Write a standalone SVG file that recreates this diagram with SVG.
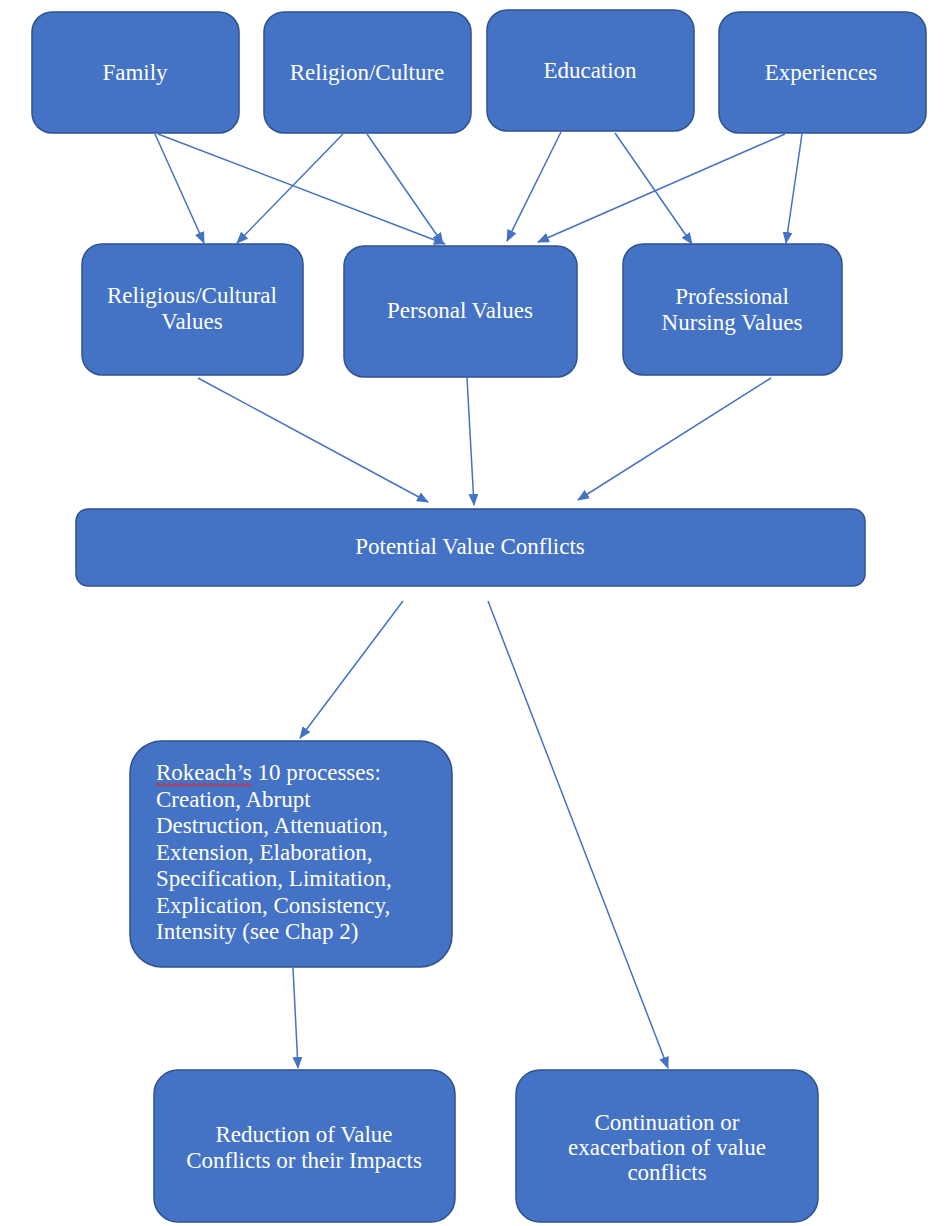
<svg xmlns="http://www.w3.org/2000/svg" width="946" height="1226" viewBox="0 0 946 1226">
<style>
.box{fill:#4472C4;stroke:#2F528F;stroke-width:1.5}
text{font-family:'Liberation Serif','Times New Roman',serif;fill:#ffffff;font-size:23px}
.t{text-anchor:middle}
.c{stroke:#4472C4;stroke-width:1.5;fill:none;marker-end:url(#ah)}
</style>
<defs>
<marker id="ah" viewBox="0 0 12 10" refX="11" refY="5" markerWidth="12" markerHeight="10" orient="auto" markerUnits="userSpaceOnUse">
<path d="M0,0 L12,5 L0,10 z" fill="#4472C4"/>
</marker>
</defs>
<rect width="946" height="1226" fill="#ffffff"/>
<g id="connectors">
<line class="c" x1="155" y1="134" x2="204" y2="243"/>
<line class="c" x1="158" y1="134" x2="445" y2="244"/>
<line class="c" x1="343" y1="134" x2="237" y2="243"/>
<line class="c" x1="367" y1="134" x2="443" y2="244"/>
<line class="c" x1="561" y1="132" x2="507" y2="241"/>
<line class="c" x1="615" y1="133" x2="692" y2="244"/>
<line class="c" x1="785" y1="134" x2="538" y2="242"/>
<line class="c" x1="802" y1="134" x2="786" y2="243"/>
<line class="c" x1="198" y1="378" x2="428" y2="502"/>
<line class="c" x1="467" y1="378" x2="474" y2="505"/>
<line class="c" x1="771" y1="378" x2="578" y2="500"/>
<line class="c" x1="403" y1="601" x2="300" y2="738"/>
<line class="c" x1="488" y1="601" x2="668" y2="1068"/>
<line class="c" x1="293" y1="968" x2="298" y2="1068"/>
</g>
<g id="family">
<rect class="box" x="32" y="12" width="207" height="121" rx="20"/>
<text class="t" x="135" y="80">Family</text>
</g>
<g id="religion-culture">
<rect class="box" x="264" y="12" width="207" height="121" rx="20"/>
<text class="t" x="367" y="80">Religion/Culture</text>
</g>
<g id="education">
<rect class="box" x="487" y="10" width="207" height="121" rx="20"/>
<text class="t" x="590" y="78">Education</text>
</g>
<g id="experiences">
<rect class="box" x="719" y="12" width="207" height="121" rx="20"/>
<text class="t" x="821" y="80">Experiences</text>
</g>
<g id="religious-cultural-values">
<rect class="box" x="82" y="244" width="221" height="131" rx="20"/>
<text class="t" x="192" y="303">Religious/Cultural</text>
<text class="t" x="192" y="329">Values</text>
</g>
<g id="personal-values">
<rect class="box" x="344" y="246" width="233" height="131" rx="20"/>
<text class="t" x="460" y="318">Personal Values</text>
</g>
<g id="professional-nursing-values">
<rect class="box" x="623" y="244" width="219" height="131" rx="20"/>
<text class="t" x="732" y="304">Professional</text>
<text class="t" x="732" y="330">Nursing Values</text>
</g>
<g id="potential-value-conflicts">
<rect class="box" x="76" y="509" width="789" height="77" rx="12"/>
<text class="t" x="470" y="554">Potential Value Conflicts</text>
</g>
<g id="rokeach">
<rect class="box" x="130" y="741" width="322" height="226" rx="32"/>
<text x="156" y="780">Rokeach’s 10 processes:</text>
<text x="156" y="806.5">Creation, Abrupt</text>
<text x="156" y="833">Destruction, Attenuation,</text>
<text x="156" y="859.5">Extension, Elaboration,</text>
<text x="156" y="886">Specification, Limitation,</text>
<text x="156" y="912.5">Explication, Consistency,</text>
<text x="156" y="939">Intensity (see Chap 2)</text>
<path d="M156,785 q1.5,-2.2 3,0 t3,0 t3,0 t3,0 t3,0 t3,0 t3,0 t3,0 t3,0 t3,0 t3,0 t3,0 t3,0 t3,0 t3,0 t3,0 t3,0 t3,0 t3,0 t3,0 t3,0 t3,0 t3,0 t3,0 t3,0 t3,0 t3,0 t3,0 t3,0 t3,0 t3,0 t3,0" fill="none" stroke="#E8232A" stroke-width="1.3"/>
</g>
<g id="reduction">
<rect class="box" x="154" y="1070" width="301" height="152" rx="24"/>
<text class="t" x="304" y="1142">Reduction of Value</text>
<text class="t" x="304" y="1168">Conflicts or their Impacts</text>
</g>
<g id="continuation">
<rect class="box" x="516" y="1070" width="302" height="152" rx="24"/>
<text class="t" x="667" y="1130">Continuation or</text>
<text class="t" x="667" y="1155">exacerbation of value</text>
<text class="t" x="667" y="1180">conflicts</text>
</g>
</svg>
